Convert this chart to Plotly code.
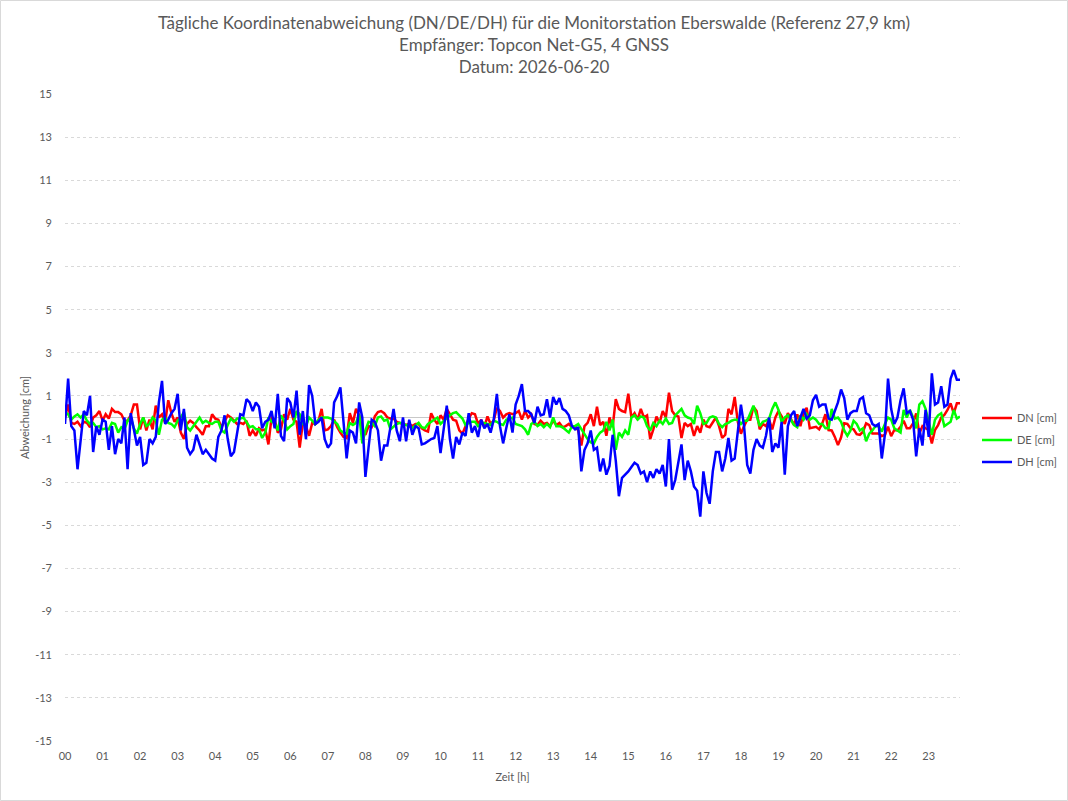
import plotly.graph_objects as go

# time in hours (5-minute steps)
n_points = 287
time_h = [k * 5 / 60 for k in range(n_points)]

x_tick_vals = list(range(24))
x_tick_text = ["%02d" % h for h in range(24)]
y_tick_vals = list(range(-15, 16, 2))
y_tick_text = [str(v) for v in y_tick_vals]

dh = [
    -0.3, 1.8, -0.4, -0.6, -2.4, -1.0, 0.3, 0.1, 1.0, -1.6, -0.4, -0.8,
    -0.1, -0.2, -1.5, -0.4, -1.7, -1.0, -1.2, 0.0, -2.4, 0.2, -0.5, -1.3,
    -0.9, -2.2, -2.1, -1.0, -1.2, -0.9, 0.7, 1.7, -0.3, -0.1, 0.2, 0.4,
    1.1, -0.6, 0.4, -1.4, -1.7, -1.5, -0.8, -1.3, -1.7, -1.5, -1.7, -1.9,
    -2.0, -0.9, -0.6, 0.1, -1.0, -1.8, -1.6, -0.8, 0.15, 0.1, 0.85, 0.7,
    0.3, 0.7, 0.5, -0.5, -0.2, -0.1, 0.3, -0.5, 1.1, -0.85, -1.1, 0.9,
    0.7, 0.0, 1.25, -0.8, 0.3, -1.0, 1.5, 1.0, -0.3, -0.2, 0.0, -1.0,
    -1.4, -1.2, 0.7, 1.0, 1.4, -0.2, -1.9, -0.6, -0.7, -1.2, 0.7, 0.0,
    -2.75, -1.4, -0.1, -0.2, -0.6, -2.0, -1.3, -1.3, -0.4, 0.4, -0.6, -1.1,
    0.0, -1.1, -0.1, -0.8, -0.4, -0.5, -1.25, -1.2, -1.1, -1.0, -0.95, -0.4,
    -1.65, -0.4, 0.55, -1.0, -1.9, -0.9, -1.25, -0.7, -0.85, 0.2, -0.7, -0.4,
    -0.9, -0.1, -0.5, -0.3, -0.7, -0.1, 1.1, -0.4, -1.2, -0.5, 0.15, -0.7,
    0.6, 1.0, 1.55, 0.3, 0.3, 0.15, -0.25, 0.5, 0.1, 0.15, 0.85, 0.0,
    0.95, 0.6, 0.9, 0.4, 0.3, 0.1, -0.4, -0.55, -0.45, -2.5, -1.5, -1.2,
    -0.6, -1.5, -1.4, -2.5, -1.9, -2.65, -2.25, -0.8, -2.0, -3.65, -2.8, -2.65,
    -2.5, -2.3, -2.1, -2.2, -2.6, -2.5, -3.0, -2.5, -2.8, -2.4, -2.6, -2.2,
    -3.2, -1.0, -3.35, -2.9, -2.0, -1.25, -2.9, -2.0, -2.5, -3.2, -3.4, -4.6,
    -2.5, -3.5, -4.0, -2.5, -1.6, -1.6, -2.5, -1.9, -0.95, -2.0, -1.9, -0.5,
    0.6, -0.4, -2.2, -2.6, -1.5, -1.0, -1.3, -1.4, -0.85, 0.0, -1.6, -1.2,
    -1.4, -0.2, -2.65, -0.4, 0.1, 0.3, -0.4, 0.0, 0.4, -0.05, 0.1, 0.8,
    1.05, 0.5, 0.6, 0.6, -0.05, -0.1, 0.3, 0.7, 1.3, 0.9, -0.1, 0.2,
    0.3, 0.3, 0.85, 0.95, 0.2, 0.1, -0.3, -0.4, -0.3, -1.9, -0.8, 1.8,
    0.4, -0.3, 0.0, 0.8, 1.35, 0.2, 0.3, -0.1, -1.8, -0.5, -1.3, 0.35,
    -0.9, 2.05, 0.6, 0.7, 1.45, 0.5, 0.6, 1.8, 2.2, 1.75, 1.75,
]

dn = [
    0.0, 0.6, -0.25, -0.3, -0.2, -0.4, -0.2, -0.25, -0.45, 0.0, 0.1, 0.3,
    -0.15, 0.15, -0.05, 0.4, 0.25, 0.25, 0.15, -0.15, -0.15, 0.1, 0.6, 0.6,
    -0.55, 0.0, -0.6, -0.1, -0.55, 0.55, 0.0, 0.15, -0.25, 0.8, 0.2, -0.2,
    0.0, -0.7, -1.0, -0.3, -0.15, -0.25, -0.45, -0.6, -0.8, -0.4, -0.4, 0.15,
    -0.05, -0.1, -0.45, -0.15, 0.1, 0.0, -0.15, -0.3, -0.25, -0.3, -0.15, -0.85,
    -0.6, -0.85, -0.5, -0.6, -0.55, -1.25, 0.0, -0.1, -0.7, -0.55, 0.15, -0.1,
    0.4, -0.1, -0.2, -1.4, -0.25, -0.4, -0.85, -0.25, -0.3, -0.15, 0.4, -0.6,
    -0.55, -0.4, -0.1, -0.45, -0.7, -0.9, -0.95, 0.2, -0.25, 0.4, 0.1, -0.55,
    -0.8, -0.4, -0.45, 0.05, 0.25, 0.3, 0.2, 0.0, -0.05, -0.05, -0.2, -0.25,
    -0.3, -0.35, -0.3, -0.4, -0.3, -0.3, -0.5, -0.6, -0.65, 0.2, -0.1, -0.3,
    0.1, -0.1, 0.4, 0.15, -0.1, -0.15, -0.6, -0.75, -0.4, -0.05, 0.2, 0.15,
    -0.3, -0.1, -0.45, 0.05, -0.3, -0.15, 0.45, 0.3, 0.0, 0.15, 0.2, 0.15,
    0.2, 0.3, -0.1, 0.3, 0.0, 0.15, -0.3, -0.35, -0.15, -0.3, -0.25, -0.4,
    -0.15, -0.35, -0.25, -0.45, -0.4, -0.3, -0.45, -0.4, -0.6, -1.3, -0.4, -0.25,
    0.15, -0.4, 0.5, -0.35, -0.2, -0.85, 0.0, -0.45, 0.85, 0.4, 0.3, 0.25,
    1.1, 0.0, 0.2, -0.1, 0.4, 0.0, 0.1, -1.0, -0.55, 0.05, -0.25, 0.3,
    0.0, 1.15, 0.3, 0.1, 0.05, -0.95, -0.25, -0.4, -0.3, -0.85, -0.4, -0.7,
    -0.1, -0.4, -0.45, -0.25, 0.0, -0.4, -0.95, -0.8, 0.4, 0.15, 0.95, -0.2,
    -0.75, -0.4, -0.1, -0.1, 0.5, 0.3, -0.55, -0.3, -0.4, -0.1, -0.55, 0.0,
    0.3, 0.05, -0.3, 0.2, -0.05, -0.35, 0.15, -0.4, 0.2, 0.45, -0.5, -0.45,
    -0.43, -0.55, -0.27, 0.15, -0.58, -0.6, -0.9, -1.28, -0.92, -0.27, -0.3, -0.5,
    -0.55, -0.77, -0.81, -0.66, -0.27, -0.35, -0.74, -0.74, -0.74, -0.86, -0.81, -0.43,
    -0.86, -0.58, -0.6, -0.43, -0.15, -0.5, -0.5, -0.27, 0.19, -0.74, -0.4, -0.5,
    -0.58, -1.2, -0.58, -0.35, 0.0, 0.12, 0.35, 0.66, 0.19, 0.66, 0.66,
]

de = [
    0.25, 0.15, -0.1, 0.05, 0.15, 0.0, 0.15, -0.15, -0.3, -0.25, -0.45, -0.4,
    -0.55, -0.5, -0.55, -0.25, -0.3, -0.7, -0.45, -0.55, -0.15, 0.0, -0.5, -0.75,
    -0.3, 0.0, -0.4, -0.3, 0.0, -0.15, -0.8, -0.1, 0.0, -0.25, -0.3, -0.45,
    -0.15, 0.0, 0.25, -0.45, -0.6, -0.4, -0.25, 0.0, -0.25, -0.15, -0.25, -0.3,
    -0.2, -0.2, -0.6, -0.7, -0.35, -0.05, -0.2, -0.05, -0.05, 0.0, -0.2, -0.45,
    -0.4, -0.55, -0.55, -0.95, -0.7, 0.0, -0.2, -0.25, -0.6, 0.1, -0.15, -0.55,
    -0.4, -0.3, 0.3, 0.15, -0.3, -0.4, 0.0, -0.15, -0.3, -0.1, 0.0, 0.0,
    0.0, -0.05, -0.2, -0.3, -0.6, -0.7, -0.75, -0.25, -0.35, -0.25, 0.15, -1.2,
    -0.6, -0.2, -0.25, -0.4, 0.0, 0.05, -0.15, -0.1, -0.55, -0.4, -0.3, -0.25,
    -0.3, -0.35, -0.4, -0.5, -0.35, -0.25, -0.45, -0.5, -0.3, -0.2, -0.1, 0.0,
    -0.3, -0.15, 0.0, 0.1, 0.2, 0.25, 0.1, -0.05, -0.35, -0.25, -0.2, -0.2,
    -0.4, -0.25, -0.25, -0.3, -0.35, -0.15, -0.2, -0.3, -0.35, -0.1, -0.05, 0.0,
    -0.3, -0.35, -0.4, -0.55, -0.8, -0.3, -0.2, -0.4, -0.3, -0.45, -0.3, -0.45,
    0.0, -0.4, -0.4, -0.45, -0.6, -0.7, -0.4, -0.4, -0.3, -0.55, -0.8, -1.0,
    -1.15, -1.2, -0.9, -0.7, -0.6, -0.2, -0.6, -0.1, -1.5, -0.7, -0.9, -0.6,
    -0.8, 0.0, 0.1, -0.1, 0.05, 0.0, -0.4, -0.6, -0.25, -0.4, -0.15, -0.3,
    -0.05, -0.3, -0.25, 0.1, 0.25, 0.4, 0.1, 0.0, -0.05, -0.3, 0.55, 0.2,
    -0.3, -0.25, 0.0, 0.05, 0.0, -0.3, -0.45, -0.3, -0.25, -0.15, -0.1, -0.1,
    -0.3, -0.15, -0.15, 0.2, 0.55, 0.1, -0.4, -0.2, -0.15, -0.05, 0.4, 0.7,
    0.35, -0.2, 0.0, 0.1, -0.1, -0.35, -0.45, 0.1, -0.1, 0.15, -0.1, 0.0,
    -0.1, -0.3, -0.3, -0.5, -0.5, 0.4, -0.05, 0.0, -0.2, -0.6, -0.85, -0.6,
    -0.15, -0.3, -0.6, -0.5, -1.1, -0.75, -0.6, -0.4, -0.4, -0.65, -0.3, 0.0,
    -0.1, -0.5, -0.6, -0.7, 0.35, 0.0, 0.35, 0.0, -0.5, 0.6, 0.75, 0.4,
    -0.2, -0.8, -0.1, 0.1, 0.2, -0.4, -0.3, -0.2, 0.35, -0.05, 0.05,
]

series = [
    ("DN [cm]", dn, "#ff0000"),
    ("DE [cm]", de, "#00ff00"),
    ("DH [cm]", dh, "#0000ff"),
]

FONT = "Lato"
GREY = "#595959"

fig = go.Figure()
for i, (name, vals, col) in enumerate(series):
    fig.add_trace(go.Scatter(
        x=time_h, y=vals, mode="lines", name=name,
        line=dict(color=col, width=2.5),
        legendgroup="g%d" % i,
    ))

W, H = 1068, 801
ml, mr, mt, mb = 65, 108, 94, 60
pw, ph = W - ml - mr, H - mt - mb

title_text = ("Tägliche Koordinatenabweichung (DN/DE/DH) für die Monitorstation Eberswalde (Referenz 27,9 km)"
              "<br>Empfänger: Topcon Net-G5, 4 GNSS<br>Datum: 2026-06-20")

fig.update_layout(
    width=W, height=H,
    margin=dict(l=ml, r=mr, t=mt, b=mb, pad=0, autoexpand=False),
    paper_bgcolor="white", plot_bgcolor="white",
    font=dict(family=FONT, color=GREY),
    showlegend=True,
    legend=dict(
        x=(977 - ml) / pw, xanchor="left",
        y=(741 - 440) / ph, yanchor="middle",
        font=dict(family=FONT, size=11, color=GREY),
        tracegroupgap=3,
        bgcolor="rgba(0,0,0,0)",
    ),
    xaxis=dict(
        range=[0, time_h[-1]],
        tickvals=x_tick_vals, ticktext=x_tick_text,
        showgrid=False, zeroline=False, showline=False,
        ticks="", tickfont=dict(family=FONT, size=11, color=GREY),
        ticklabelstandoff=7,
        title=dict(text="Zeit [h]", font=dict(family=FONT, size=11, color=GREY), standoff=12),
    ),
    yaxis=dict(
        range=[-15, 15],
        tickvals=y_tick_vals, ticktext=y_tick_text,
        showgrid=True, gridcolor="#d9d9d9", griddash="dot", gridwidth=1,
        zeroline=True, zerolinecolor="#c8c8c8", zerolinewidth=1,
        showline=False, ticks="",
        tickfont=dict(family=FONT, size=11, color=GREY),
        ticklabelstandoff=12,
        title=dict(text="Abweichung [cm]", font=dict(family=FONT, size=11, color=GREY), standoff=3),
    ),
    annotations=[dict(
        text=title_text, showarrow=False,
        xref="paper", yref="paper",
        x=(534 - ml) / pw, xanchor="center",
        y=1 + (mt - 10) / ph, yanchor="top",
        align="center",
        font=dict(family=FONT, size=17, color=GREY),
    )],
    shapes=[dict(
        type="rect", xref="paper", yref="paper",
        x0=(0.5 - ml) / pw, x1=(W - 0.5 - ml) / pw,
        y0=-(mb - 0.5) / ph, y1=1 + (mt - 0.5) / ph,
        line=dict(color="#d9d9d9", width=1), fillcolor="rgba(0,0,0,0)",
        layer="below",
    )],
)

fig.write_html("out.html")
